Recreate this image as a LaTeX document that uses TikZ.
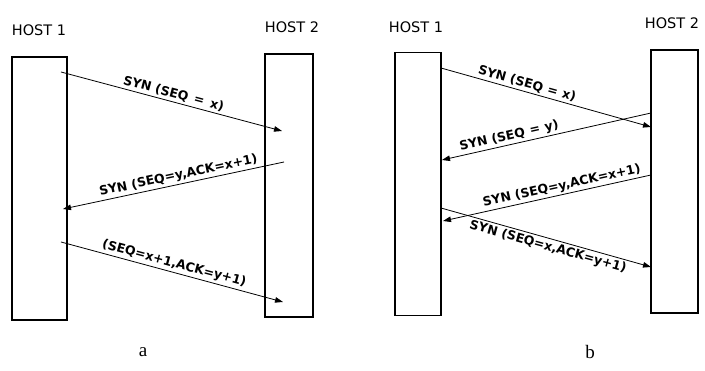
\documentclass[tikz,border=0pt]{standalone}
\usepackage{fontspec}
\setmainfont{DejaVu Sans}
\newfontfamily\serifcap{Liberation Serif}
\usetikzlibrary{arrows.meta}

\begin{document}
\begin{tikzpicture}[x=1pt,y=-1pt,
		hostbox/.style={draw,line width=1.1pt,inner sep=0pt,minimum height=263pt},
		hostlbl/.style={font=\fontsize{14.5}{16}\selectfont},
		msg/.style={-{Triangle[length=8pt,width=5.5pt]},line width=0.8pt},
		msglbl/.style={sloped,font=\bfseries\fontsize{12.5}{14}\selectfont,inner sep=2pt},
		caplbl/.style={font=\serifcap\fontsize{19}{21}\selectfont}]
			\useasboundingbox (0,0) rectangle (705,371);
			% a
			\node[hostbox,minimum width=55pt] (A1) at (39.5,188.5) {};
			\node[hostbox,minimum width=48pt] (A2) at (289,185.5) {};
			\node[hostlbl] (A1t) at (39,30) {HOST 1};
			\node[hostlbl] (A2t) at (292,27) {HOST 2};
			\coordinate (a1s) at (61,72);
			\coordinate (a1e) at (282,131);
			\coordinate (a2s) at (284,162);
			\coordinate (a2e) at (63,209);
			\coordinate (a3s) at (61,242);
			\coordinate (a3e) at (283,302);
			\draw[msg] (a1s) -- node[msglbl,above] (a1l) {SYN (SEQ\hspace{0.5em}=\hspace{0.5em}x)} (a1e);
			\draw[msg] (a2s) -- node[msglbl,above,pos=0.47] (a2l) {SYN (SEQ=y,ACK=x+1)} (a2e);
			\draw[msg] (a3s) -- node[msglbl,above] (a3l) {(SEQ=x+1,ACK=y+1)} (a3e);
			\node[caplbl] (capa) at (143,352) {a};
			% b
			\node[hostbox,minimum width=46pt] (B1) at (418,184) {};
			\node[hostbox,minimum width=47pt] (B2) at (674.5,181.5) {};
			\node[hostlbl] (B1t) at (416,27) {HOST 1};
			\node[hostlbl] (B2t) at (672,23) {HOST 2};
			\coordinate (b1s) at (441,68);
			\coordinate (b1e) at (651,127);
			\coordinate (b2s) at (651,113);
			\coordinate (b2e) at (442,160);
			\coordinate (b3s) at (651,175);
			\coordinate (b3e) at (443,221);
			\coordinate (b4s) at (441,208);
			\coordinate (b4e) at (651,267);
			\draw[msg] (b1s) -- node[msglbl,above,pos=0.4] (b1l) {SYN (SEQ\hspace{0.4em}=\hspace{0.4em}x)} (b1e);
			\draw[msg] (b2s) -- node[msglbl,above,pos=0.67] (b2l) {SYN (SEQ\hspace{0.4em}=\hspace{0.4em}y)} (b2e);
			\draw[msg] (b3s) -- node[msglbl,above,pos=0.42] (b3l) {SYN (SEQ=y,ACK=x+1)} (b3e);
			\draw[msg] (b4s) -- node[msglbl,below,pos=0.52] (b4l) {SYN (SEQ=x,ACK=y+1)} (b4e);
			\node[caplbl] (capb) at (590,352) {b};
\end{tikzpicture}
\end{document}
